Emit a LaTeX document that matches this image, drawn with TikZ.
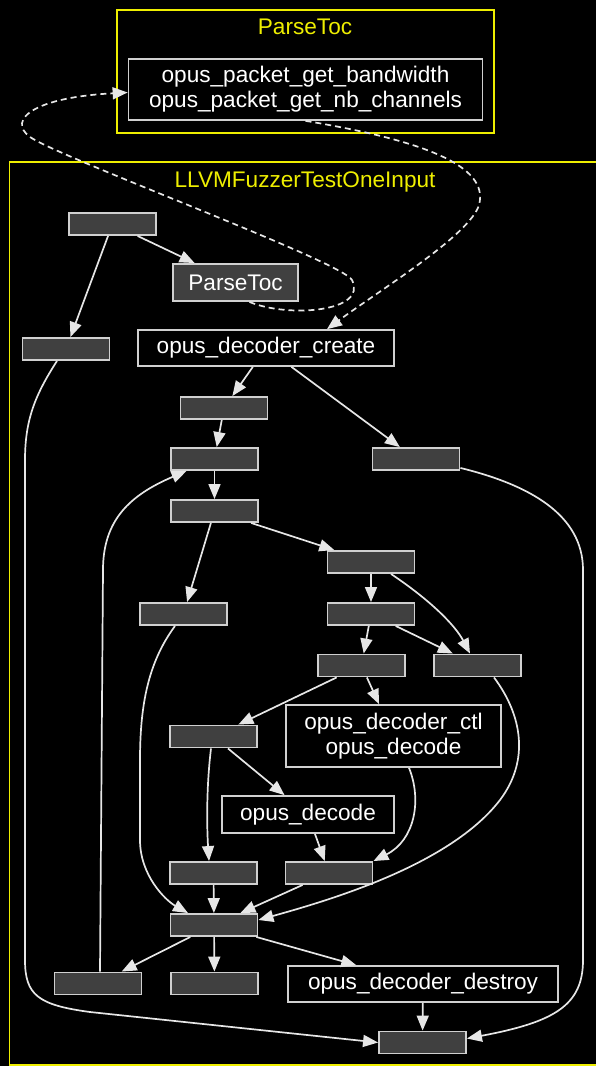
\documentclass[tikz,border=0pt]{standalone}
\usepackage{fontspec}
\setmainfont{Liberation Sans}
\usetikzlibrary{arrows.meta,positioning}
\definecolor{edgecol}{HTML}{E6E6E6}
\definecolor{boxfill}{HTML}{404040}
\definecolor{boxline}{HTML}{D0D0D0}
\definecolor{clyellow}{HTML}{EEEE00}
\tikzset{
	edge/.style={draw=edgecol,line width=1.7pt,-{Triangle[length=15pt,width=12pt]}},
	call/.style={edge,dashed,dash pattern=on 6pt off 4pt},
	blk/.style={draw=boxline,fill=boxfill,line width=1.9pt,rectangle,minimum width=87pt,minimum height=22pt,inner sep=0pt},
	fn/.style={draw=boxline,line width=1.7pt,rectangle,align=center,text=white,inner xsep=15pt,inner ysep=0pt,minimum height=37pt},
	cl/.style={draw=clyellow,line width=1.6pt},
	cllabel/.style={text=clyellow}
}

\begin{document}
\begin{tikzpicture}[x=1pt,y=-1pt,font=\fontsize{22.6}{25}\selectfont]
			\useasboundingbox[fill=black] (0,0) rectangle (596,1066);
			% clusters
			\draw[cl] (117,10) rectangle (494,133);
			\node[cllabel] (ptlab) at (305,27) {ParseToc};
			\draw[cl] (9.5,162) rectangle (605,1065);
			\node[cllabel] (fzlab) at (305,182) {LLVMFuzzerTestOneInput};
			
			\node[fn,minimum width=354pt,minimum height=61pt] (pt) at (305.5,89.5) {opus\_packet\_get\_bandwidth\\opus\_packet\_get\_nb\_channels};
			
			\node[blk] (st) at (112.5,224) {};
			\node[blk,fill=boxfill,text=white,minimum width=125pt,minimum height=37pt] (ptoc) at (235.5,282.5) {ParseToc};
			\node[blk] (lft) at (66,349) {};
			\node[fn,minimum width=256pt,minimum height=36pt] (create) at (266,348) {opus\_decoder\_create};
			\node[blk] (a) at (224,408) {};
			\node[blk] (rt) at (416,459) {};
			\node[blk] (b) at (214.5,459) {};
			\node[blk] (c) at (214.5,511) {};
			\node[blk] (d) at (371,562) {};
			\node[blk] (e) at (183.5,614) {};
			\node[blk] (f) at (371,614) {};
			\node[blk] (g) at (361.5,665.5) {};
			\node[blk] (h) at (477.5,665.5) {};
			\node[fn,minimum width=215pt,minimum height=62pt] (ctl) at (393.5,736) {opus\_decoder\_ctl\\opus\_decode};
			\node[blk] (i) at (213.5,736.5) {};
			\node[fn,minimum width=172pt] (dec) at (308,814.5) {opus\_decode};
			\node[blk] (j) at (213.5,873) {};
			\node[blk] (k) at (329,873) {};
			\node[blk] (hub) at (214,925) {};
			\node[blk] (m) at (98,983.5) {};
			\node[blk] (n) at (214.5,983.5) {};
			\node[fn,minimum width=270pt,minimum height=36pt] (des) at (423,984) {opus\_decoder\_destroy};
			\node[blk] (fin) at (422.5,1042.5) {};
			
			% calls into ParseToc
			\draw[call] ([xshift=14pt]ptoc.south) .. controls (288,318) and (368,312) .. (352,280)
				.. controls (342,262) and (80,165) .. (35,140)
				.. controls (5,124) and (25,98) .. ([yshift=-3pt]pt.west);
			\draw[call] (pt.south) .. controls (420,140) and (490,165) .. (479,205)
				.. controls (470,235) and (380,290) .. ([xshift=61pt]create.north);
			
			\draw[edge] (st) -- (ptoc);
			\draw[edge] (st) -- (lft);
			\draw[edge] ([xshift=-9pt]lft.south) .. controls (35,395) and (25,420) .. (25,460) -- (25,960)
				.. controls (25,995) and (38,1005) .. (90,1012) -- (fin.west);
			\draw[edge] (create) -- (a);
			\draw[edge] (create) -- (rt);
			\draw[edge] (a) -- (b);
			\draw[edge] ([yshift=3pt]rt.south east) .. controls (530,485) and (583,515) .. (583,570) -- (583,960)
				.. controls (583,1005) and (555,1022) .. ([yshift=4pt]fin.east);
			\draw[edge] (b) -- (c);
			\draw[edge] (c) -- (d);
			\draw[edge] (c) -- (e);
			\draw[edge] (d) -- (f);
			\draw[edge] ([xshift=20pt]d.south) .. controls (430,600) and (455,625) .. ([xshift=-7.5pt]h.north);
			\draw[edge] (f) -- (g);
			\draw[edge] (f) -- (h);
			\draw[edge] ([xshift=-8.5pt]e.south) .. controls (150,660) and (140,700) .. (140,760) -- (140,840)
				.. controls (140,875) and (165,900) .. ([xshift=-26pt]hub.north);
			\draw[edge] (g) -- (i);
			\draw[edge] (g) -- (ctl);
			\draw[edge] ([xshift=16.5pt]h.south) .. controls (522,715) and (530,760) .. (500,800)
				.. controls (450,865) and (330,900) .. ([yshift=5pt]hub.east);
			\draw[edge] ([xshift=-2.5pt]i.south) .. controls (206,790) and (207,830) .. ([xshift=-4.5pt]j.north);
			\draw[edge] (i) -- (dec);
			\draw[edge] ([xshift=15.5pt]ctl.south) .. controls (422,800) and (415,840) .. (k.north east);
			\draw[edge] (dec) -- (k);
			\draw[edge] (j) -- (hub);
			\draw[edge] (k) -- (hub);
			\draw[edge] (hub) -- (m);
			\draw[edge] (hub) -- (n);
			\draw[edge] (hub) -- (des);
			\draw[edge] (des) -- (fin);
			% back edge of the loop
			\draw[edge] ([xshift=2pt]m.north) -- (103,570) .. controls (103,520) and (130,495) .. ([xshift=-28pt]b.south);
		\end{tikzpicture}
\end{document}
